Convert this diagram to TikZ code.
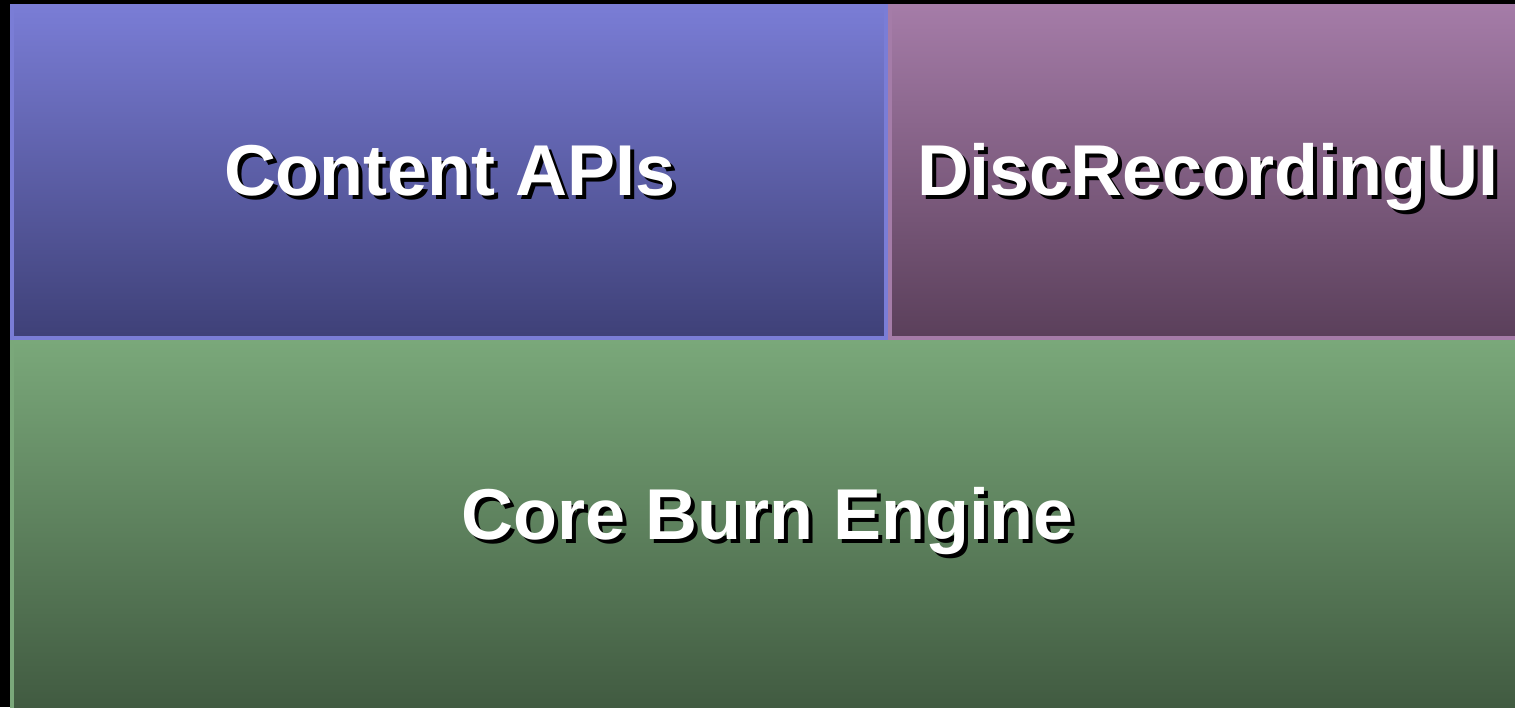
\documentclass[tikz,border=0pt]{standalone}
\usepackage{fontspec}
\setmainfont{Liberation Sans}
\definecolor{bluetop}{HTML}{7A7DD6}
\definecolor{bluemid}{HTML}{6467B4}
\definecolor{bluebot}{HTML}{3E4077}
\definecolor{purptop}{HTML}{A57CA8}
\definecolor{purpmid}{HTML}{8A6590}
\definecolor{purpbot}{HTML}{5A3F5A}
\definecolor{greentop}{HTML}{7AA87A}
\definecolor{greenmid}{HTML}{66906A}
\definecolor{greenbot}{HTML}{3F583F}
\newcommand\dropshadowtext[1]{\rlap{\kern4pt\lower4pt\hbox{\color{black}#1}}#1}
\tikzset{
  lbl/.style={font=\fontsize{72}{72}\selectfont\bfseries, text=white, anchor=base, inner sep=0pt},
}
\begin{document}
\begin{tikzpicture}[x=1pt,y=-1pt]
\useasboundingbox (0,0) rectangle (1515,707);
\fill[black] (0,0) rectangle (1515,707);
% boxes
\shade[top color=bluetop, middle color=bluemid, bottom color=bluebot] (10,4) rectangle (888,340);
\draw[bluetop, line width=4pt] (12,6) rectangle (886,338);
\shade[top color=purptop, middle color=purpmid, bottom color=purpbot] (888,4) rectangle (1540,340);
\draw[purptop, line width=4pt] (890,6) rectangle (1538,338);
\shade[top color=greentop, middle color=greenmid, bottom color=greenbot] (10,340) rectangle (1540,720);
\draw[greentop, line width=4pt] (12,342) rectangle (1538,718);
% labels with drop shadows
\node[lbl] (t1) at (450,195) {\dropshadowtext{Content APIs}};
\node[lbl] (t2) at (1208,195) {\dropshadowtext{DiscRecordingUI}};
\node[lbl] (t3) at (768,539) {\dropshadowtext{Core Burn Engine}};
\end{tikzpicture}
\end{document}
